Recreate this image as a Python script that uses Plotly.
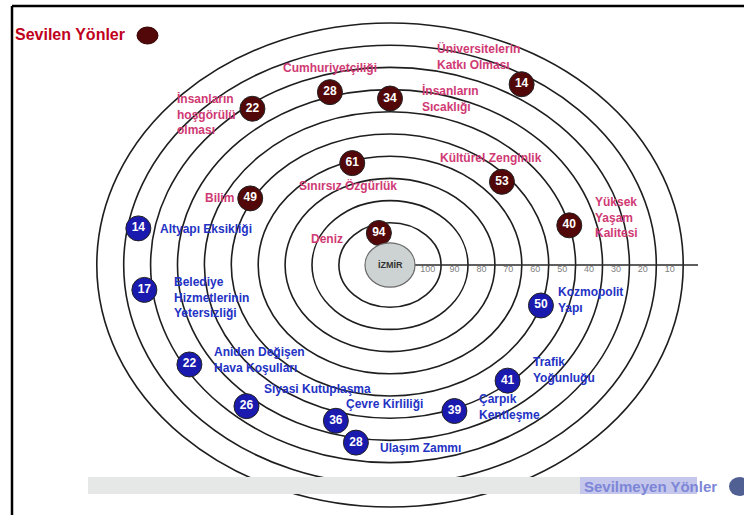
import numpy as np
import plotly.graph_objects as go

# ---------------- data ----------------
ring_ticks = [100, 90, 80, 70, 60, 50, 40, 30, 20, 10]

liked_labels = ["Cumhuriyetçiliği", "Üniversitelerin<br>Katkı Olması",
                "İnsanların<br>hoşgörülü<br>olması", "İnsanların<br>Sıcaklığı",
                "Sınırsız Özgürlük", "Kültürel Zenginlik", "Bilim",
                "Yüksek<br>Yaşam<br>Kalitesi", "Deniz"]
liked_values = [28, 14, 22, 34, 61, 53, 49, 40, 94]
liked_angles = [106, 59, 126, 90, 107, 42, 150, 15, 106]

disliked_labels = ["Altyapı Eksikliği", "Belediye<br>Hizmetlerinin<br>Yetersizliği",
                   "Aniden Değişen<br>Hava Koşulları", "Siyasi Kutuplaşma",
                   "Çevre Kirliliği", "Ulaşım Zammı", "Çarpık<br>Kentleşme",
                   "Trafik<br>Yoğunluğu", "Kozmopolit<br>Yapı"]
disliked_values = [14, 17, 22, 26, 36, 28, 39, 41, 50]
disliked_angles = [170, 187, 211, 230, 254, 261, 290, 310, 342]

legend_liked = "Sevilen Yönler"
legend_disliked = "Sevilmeyen Yönler"
center_label = "İZMİR"

# ---------------- style / layout ----------------
W, H = 744, 515
CX, CY = 390, 265          # centre in pixels
SX, SY = 26.9, 22.2        # pixels per radial unit (x, y)
DISC_R = 0.9
FONT = "Liberation Sans, Arial, sans-serif"

RED_DOT = "#520808"
BLUE_DOT = "#1a1aae"
PINK = "#d03a74"
BLUE_TXT = "#2332c4"
LABEL_SIZE = 12

# label placement relative to its marker: (xanchor, xshift, yshift)
liked_place = [("center", 0, 24), ("right", 0, 28), ("right", -14, -5),
               ("left", 30, 0), ("center", -4, -22), ("center", -11, 24),
               ("right", -14, 0), ("left", 24, 8), ("right", -34, -6)]
disliked_place = [("left", 20, -1), ("left", 28, -8), ("left", 23, 4),
                  ("left", 16, 17), ("left", 8, 17), ("left", 22, -5),
                  ("left", 23, 4), ("left", 23, 11), ("left", 15, 5)]


def radius(v):
    return DISC_R + (100 - np.asarray(v, dtype=float)) / 10.0


def polar_xy(values, angles):
    r = radius(values)
    t = np.deg2rad(np.asarray(angles, dtype=float))
    return r * np.cos(t), r * np.sin(t)


fig = go.Figure()
shapes = []
annotations = []

# rings
for t in ring_ticks:
    rr = float(radius(t - 10))
    shapes.append(dict(type="circle", xref="x", yref="y", x0=-rr, x1=rr, y0=-rr, y1=rr,
                       line=dict(color="#1e1e1e", width=1.6), layer="below"))

# axis line
fig.add_trace(go.Scatter(x=[DISC_R, (W - CX - 46) / SX], y=[0, 0], mode="lines",
                         line=dict(color="#2a2a2a", width=1.5), hoverinfo="skip"))
# tick labels
fig.add_trace(go.Scatter(x=radius(ring_ticks) + 0.5, y=np.zeros(len(ring_ticks)) - 0.2,
                         mode="text", text=[str(t) for t in ring_ticks],
                         textfont=dict(family=FONT, size=9, color="#808080"),
                         hoverinfo="skip"))

# centre disc
shapes.append(dict(type="circle", xref="x", yref="y", x0=-0.93, x1=0.93, y0=-1.0, y1=1.0,
                   fillcolor="#cdd2d2", line=dict(color="#6a6a6a", width=1.2), layer="above"))
annotations.append(dict(x=0, y=0, xref="x", yref="y", text="<b>" + center_label + "</b>",
                        showarrow=False, font=dict(family=FONT, size=9, color="#333")))

# markers
for values, angles, labels, place, col, tcol in [
        (liked_values, liked_angles, liked_labels, liked_place, RED_DOT, PINK),
        (disliked_values, disliked_angles, disliked_labels, disliked_place, BLUE_DOT, BLUE_TXT)]:
    xs, ys = polar_xy(values, angles)
    fig.add_trace(go.Scatter(x=xs, y=ys, mode="markers+text",
                             text=[str(v) for v in values], textposition="middle center",
                             textfont=dict(family=FONT, size=12, color="white", weight="bold"),
                             marker=dict(size=25, color=col, line=dict(color="#222", width=1)),
                             hoverinfo="skip"))
    for x, y, lab, (xa, xs_, ys_) in zip(xs, ys, labels, place):
        annotations.append(dict(x=x, y=y, xref="x", yref="y", text="<b>" + lab + "</b>",
                                showarrow=False, xanchor=xa, yanchor="middle", align="left",
                                xshift=xs_, yshift=ys_,
                                font=dict(family=FONT, size=LABEL_SIZE, color=tcol)))

# frame
def px(x):
    return x / W


def py(y):
    return 1 - y / H


shapes.append(dict(type="line", xref="paper", yref="paper", x0=px(12), x1=px(12), y0=py(6), y1=0,
                   line=dict(color="black", width=2.5)))
shapes.append(dict(type="line", xref="paper", yref="paper", x0=px(12), x1=1, y0=py(6), y1=py(6),
                   line=dict(color="black", width=2.5)))

# legends
annotations.append(dict(x=px(13), y=py(35), xref="paper", yref="paper", xanchor="left",
                        yanchor="middle", showarrow=False, text="<b>" + legend_liked + "</b>",
                        font=dict(family=FONT, size=16, color="#c0001c")))
shapes.append(dict(type="circle", xref="paper", yref="paper", x0=px(137), x1=px(158),
                   y0=py(44), y1=py(27), fillcolor=RED_DOT, line=dict(color="#300", width=1)))

shapes.append(dict(type="rect", xref="paper", yref="paper", x0=px(88), x1=px(580),
                   y0=py(494), y1=py(477), fillcolor="#e6e8e8", line=dict(width=0), layer="above"))
shapes.append(dict(type="rect", xref="paper", yref="paper", x0=px(580), x1=px(697),
                   y0=py(494), y1=py(477), fillcolor="#c4c6ec", line=dict(width=0), layer="above"))
annotations.append(dict(x=px(719), y=py(486), xref="paper", yref="paper", xanchor="right",
                        yanchor="middle", showarrow=False, text="<b>" + legend_disliked + "</b>",
                        font=dict(family=FONT, size=15, color="#7d86d6")))
shapes.append(dict(type="circle", xref="paper", yref="paper", x0=px(729), x1=px(750),
                   y0=py(496), y1=py(477), fillcolor="#506092", line=dict(width=0)))

fig.update_layout(
    width=W, height=H, margin=dict(l=0, r=0, t=0, b=0),
    paper_bgcolor="white", plot_bgcolor="white", showlegend=False,
    xaxis=dict(range=[-CX / SX, (W - CX) / SX], visible=False, fixedrange=True),
    yaxis=dict(range=[-(H - CY) / SY, CY / SY], visible=False, fixedrange=True),
    shapes=shapes, annotations=annotations,
)
fig.write_html("out.html", config={"displayModeBar": False},
               post_script="document.body.style.margin='0';document.body.style.overflow='hidden';")
